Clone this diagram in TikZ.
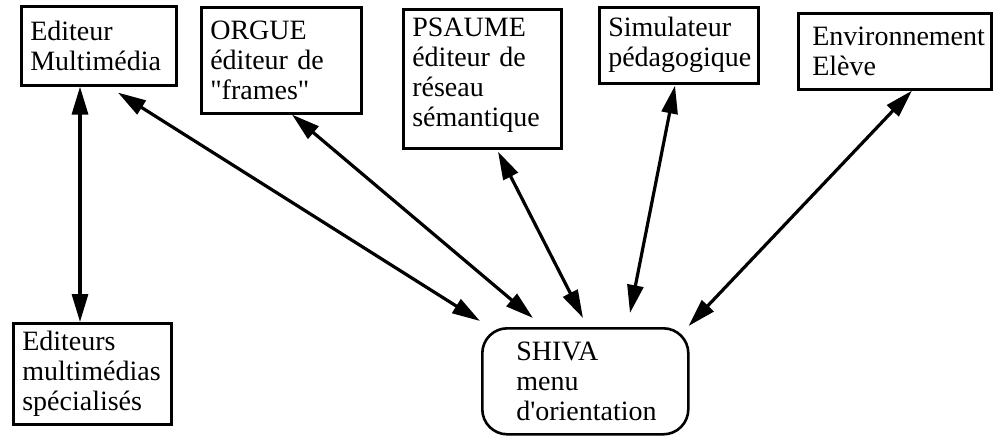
\documentclass[tikz,border=0pt]{standalone}
\usepackage{fontspec}
\setmainfont{Liberation Serif}
% plain family without TeX ligatures, so " and ' stay straight
\newfontfamily\boxfont{Liberation Serif}
\usetikzlibrary{arrows.meta}
\begin{document}
\begin{tikzpicture}[x=1pt,y=-1pt,
  box/.style={draw, line width=2.6pt, anchor=north west, align=left,
    inner xsep=9pt, inner ysep=0pt, font=\boxfont\fontsize{28}{30}\selectfont},
  link/.style={line width=3.2pt, <->, >={Triangle[length=28pt,width=16pt]}}
]
\useasboundingbox (0,0) rectangle (994,436);
% tools around the menu
\node[box, text width=137pt, minimum height=79pt] (b1) at (20,5) {Editeur\\Multimédia};
\node[box, text width=142pt, minimum height=106pt] (b2) at (200,6) {ORGUE\\éditeur de\\"frames"};
\node[box, text width=140pt, minimum height=139pt] (b3) at (402,8) {PSAUME\\éditeur de\\réseau\\sémantique\\[-16pt]\mbox{}};
\node[box, text width=141pt, minimum height=76pt] (b4) at (598,6) {Simulateur\\pédagogique};
\node[box, text width=165pt, inner xsep=14pt, minimum height=76pt] (b5) at (797,12) {Environnement\\Elève};
\node[box, text width=140pt, minimum height=101pt] (b6) at (12,322) {Editeurs\\multimédias\\spécialisés};
% central menu
\node[box, rounded corners=25pt, text width=138pt, inner xsep=34pt, minimum height=106pt] (shiva) at (481,327) {SHIVA\\menu\\d'orientation};
% links
\draw[link] ([xshift=60pt]b1.south west) -- ([xshift=68pt]b6.north west);
\draw[link] ([xshift=98pt,yshift=-6pt]b1.south west) -- ([xshift=-1pt,yshift=6pt]shiva.north west);
\draw[link] ([xshift=92pt]b2.south west) -- ([xshift=52pt,yshift=9pt]shiva.north west);
\draw[link] ([xshift=96pt,yshift=-2pt]b3.south west) -- ([xshift=102pt,yshift=9pt]shiva.north west);
\draw[link] ([xshift=77pt,yshift=-1pt]b4.south west) -- ([xshift=149pt,yshift=14pt]shiva.north west);
\draw[link] ([xshift=115pt]b5.south west) -- ([xshift=-1pt,yshift=1pt]shiva.north east);
\end{tikzpicture}
\end{document}
